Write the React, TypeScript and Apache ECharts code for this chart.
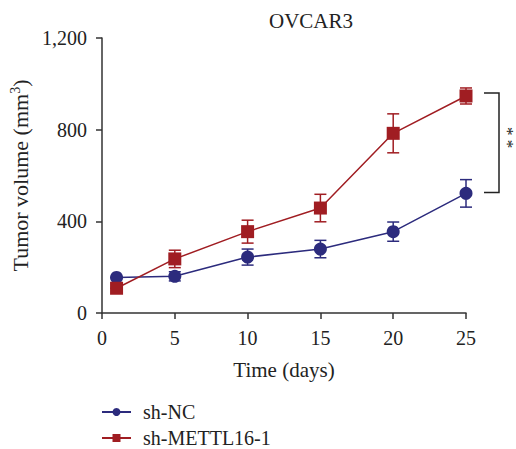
import React, { useEffect, useRef } from "react";
import * as echarts from "echarts";

const days = [1, 5, 10, 15, 20, 25];
const ncMean = [155, 160, 244, 279, 355, 522];
const ncErr = [0, 20, 35, 38, 42, 60];
const mtMean = [108, 236, 355, 458, 784, 947];
const mtErr = [0, 38, 50, 60, 85, 35];
const yTicks = [0, 400, 800, 1200];
const bracket = [25, 947, 522];

const BLUE = "#2c2b7d";
const RED = "#a01d22";
const INK = "#222";
const FONT = "Liberation Serif";

function errSeries(means: number[], errs: number[], color: string) {
  return {
    type: "custom",
    silent: true,
    z: 1,
    itemStyle: { color },
    data: days.map((d, i) => [d, means[i] - errs[i], means[i] + errs[i]]),
    renderItem: (params: any, api: any) => {
      const lo = api.coord([api.value(0), api.value(1)]);
      const hi = api.coord([api.value(0), api.value(2)]);
      const w = 6;
      const style = { stroke: color, lineWidth: 1.5 };
      return {
        type: "group",
        children: [
          { type: "line", shape: { x1: lo[0], y1: lo[1], x2: hi[0], y2: hi[1] }, style },
          { type: "line", shape: { x1: lo[0] - w, y1: lo[1], x2: lo[0] + w, y2: lo[1] }, style },
          { type: "line", shape: { x1: hi[0] - w, y1: hi[1], x2: hi[0] + w, y2: hi[1] }, style },
        ],
      };
    },
  };
}

function legendAt(name: string, top: number) {
  return {
    orient: "vertical",
    left: 101,
    top,
    padding: 0,
    itemWidth: 29,
    itemHeight: 10,
    data: [name],
    textStyle: { fontFamily: FONT, fontSize: 20, color: INK, padding: [0, 0, 0, 7] },
  };
}

export default function App() {
  const ref = useRef<HTMLDivElement>(null);
  useEffect(() => {
    const chart = echarts.init(ref.current!, null, { renderer: "svg" });
    chart.setOption({
      animation: false,
      textStyle: { fontFamily: FONT },
      title: {
        text: "OVCAR3",
        left: 306,
        textAlign: "center",
        top: 5,
        textStyle: { fontFamily: FONT, fontSize: 21, fontWeight: "normal", color: INK },
      },
      legend: [legendAt("sh-NC", 402), legendAt("sh-METTL16-1", 428)],
      grid: { left: 102, right: 50, top: 38, bottom: 136, containLabel: false },
      xAxis: {
        type: "value",
        min: 0,
        max: 25,
        interval: 5,
        name: "Time (days)",
        nameLocation: "middle",
        nameGap: 46,
        nameTextStyle: { fontFamily: FONT, fontSize: 21, color: INK },
        axisLine: { lineStyle: { color: "#333", width: 1.5 } },
        axisTick: { length: 6, lineStyle: { color: "#333", width: 1.5 } },
        axisLabel: { fontFamily: FONT, fontSize: 20, color: INK, margin: 15 },
        splitLine: { show: false },
      },
      yAxis: {
        type: "value",
        min: 0,
        max: 1200,
        interval: 400,
        name: "Tumor volume (mm{sup|3})",
        nameLocation: "middle",
        nameGap: 63,
        nameTextStyle: {
          fontFamily: FONT,
          fontSize: 22,
          color: INK,
          rich: { sup: { fontFamily: FONT, fontSize: 14, color: INK, verticalAlign: "top", padding: [0, 0, 9, 0] } },
        },
        axisLine: { show: true, lineStyle: { color: "#333", width: 1.5 } },
        axisTick: { show: true, length: 6, lineStyle: { color: "#333", width: 1.5 } },
        axisLabel: {
          fontFamily: FONT,
          fontSize: 20,
          color: INK,
          margin: 15,
          formatter: (v: number) => (yTicks.includes(v) ? v.toLocaleString("en-US") : ""),
        },
        splitLine: { show: false },
      },
      series: [
        errSeries(ncMean, ncErr, BLUE),
        errSeries(mtMean, mtErr, RED),
        {
          name: "sh-NC",
          type: "line",
          data: days.map((d, i) => [d, ncMean[i]]),
          symbol: "circle",
          symbolSize: 13,
          color: BLUE,
          lineStyle: { color: BLUE, width: 1.5 },
          itemStyle: { color: BLUE },
          z: 3,
        },
        {
          name: "sh-METTL16-1",
          type: "line",
          data: days.map((d, i) => [d, mtMean[i]]),
          symbol: "rect",
          symbolSize: 13,
          color: RED,
          lineStyle: { color: RED, width: 1.5 },
          itemStyle: { color: RED },
          z: 3,
        },
        {
          type: "custom",
          silent: true,
          clip: false,
          itemStyle: { color: INK },
          data: [bracket],
          renderItem: (params: any, api: any) => {
            const top = api.coord([api.value(0), api.value(1)]);
            const bot = api.coord([api.value(0), api.value(2)]);
            const x0 = top[0] + 18;
            const x1 = top[0] + 33;
            const mid = (top[1] + bot[1]) / 2;
            return {
              type: "group",
              children: [
                {
                  type: "polyline",
                  shape: { points: [[x0, top[1] - 3], [x1, top[1] - 3], [x1, bot[1] - 1], [x0, bot[1] - 1]] },
                  style: { stroke: INK, lineWidth: 1.5, fill: null },
                },
                {
                  type: "text",
                  x: x1 + 8,
                  y: mid - 7,
                  rotation: -Math.PI / 2,
                  style: {
                    text: "* *",
                    fontFamily: FONT,
                    fontSize: 17,
                    fill: INK,
                    stroke: "none",
                    lineWidth: 0,
                    align: "center",
                    verticalAlign: "middle",
                  },
                },
              ],
            };
          },
        },
      ],
    });
    return () => chart.dispose();
  }, []);
  return <div ref={ref} style={{ position: "absolute", left: 0, top: 0, width: 516, height: 449 }} />;
}
